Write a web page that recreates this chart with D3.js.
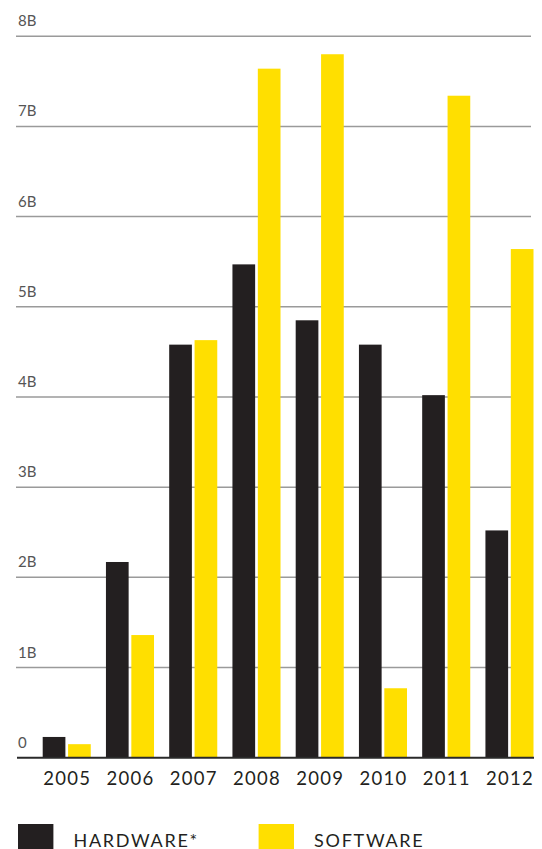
<!DOCTYPE html>
<html>
<head>
<meta charset="utf-8">
<script src="https://cdn.jsdelivr.net/npm/d3@7"></script>
<style>
  html, body { margin: 0; padding: 0; background: #fff; }
  svg { display: block; font-family: Lato, "Open Sans", sans-serif; }
</style>
</head>
<body>
<div id="chart"></div>
<script>
// chart values (billions)
const years = ["2005", "2006", "2007", "2008", "2009", "2010", "2011", "2012"];
const hardware = [0.23, 2.17, 4.58, 5.47, 4.85, 4.58, 4.02, 2.52];
const software = [0.15, 1.36, 4.63, 7.64, 7.80, 0.77, 7.34, 5.64];
const yTicks = [0, 1, 2, 3, 4, 5, 6, 7, 8];
const seriesNames = ["HARDWARE*", "SOFTWARE"];

const width = 542, height = 849;
const colors = { hw: "#231f20", sw: "#ffdf00" };

const svg = d3.select("#chart")
    .append("svg")
    .attr("width", width)
    .attr("height", height);

// scales
const y = d3.scaleLinear().domain([0, 8]).range([757.7, 36.2]);
const x0 = d3.scaleBand().domain(years).range([42.7, 533.5]).paddingInner(0.24).paddingOuter(0);
const x1 = d3.scaleBand().domain(["hw", "sw"]).range([0, x0.bandwidth()]).paddingInner(0.106);

// gridlines + labels
const grid = svg.append("g");
grid.selectAll("line")
    .data(yTicks.filter(d => d > 0))
    .enter()
    .append("line")
    .attr("x1", 16)
    .attr("x2", 531)
    .attr("y1", d => y(d))
    .attr("y2", d => y(d))
    .attr("stroke", "#9a9a9a")
    .attr("stroke-width", 1.5);

grid.selectAll("text")
    .data(yTicks)
    .enter()
    .append("text")
    .attr("x", 18)
    .attr("y", d => y(d) - 10)
    .attr("font-size", 15)
    .attr("fill", "#555")
    .text(d => d === 0 ? "0" : d + "B");

// bars
const groups = svg.selectAll("g.year")
    .data(years.map((yr, i) => ({ year: yr, hw: hardware[i], sw: software[i] })))
    .enter()
    .append("g")
    .attr("class", "year")
    .attr("transform", d => `translate(${x0(d.year)},0)`);

groups.selectAll("rect")
    .data(d => ["hw", "sw"].map(k => ({ key: k, value: d[k] })))
    .enter()
    .append("rect")
    .attr("x", d => x1(d.key))
    .attr("width", x1.bandwidth())
    .attr("y", d => y(d.value))
    .attr("height", d => y(0) - y(d.value))
    .attr("fill", d => colors[d.key]);

// baseline
svg.append("line")
    .attr("x1", 17)
    .attr("x2", 534)
    .attr("y1", y(0))
    .attr("y2", y(0))
    .attr("stroke", "#2a2a2a")
    .attr("stroke-width", 2);

// year labels
svg.append("g").selectAll("text")
    .data(years)
    .enter()
    .append("text")
    .attr("x", d => x0(d) + x0.bandwidth() / 2 + 0.6)
    .attr("y", 785)
    .attr("text-anchor", "middle")
    .attr("font-size", 18.5)
    .attr("letter-spacing", 1.3)
    .attr("fill", "#231f20")
    .text(d => d);

// legend
const legendX = [18, 258.6];
const legend = svg.append("g");
legend.selectAll("rect")
    .data(["hw", "sw"])
    .enter()
    .append("rect")
    .attr("x", (d, i) => legendX[i])
    .attr("y", 824)
    .attr("width", 35.4)
    .attr("height", 30)
    .attr("fill", d => colors[d]);

legend.selectAll("text")
    .data(seriesNames)
    .enter()
    .append("text")
    .attr("x", (d, i) => legendX[i] + 55.5)
    .attr("y", 846.5)
    .attr("font-size", 18)
    .attr("letter-spacing", 1.7)
    .attr("fill", "#231f20")
    .text(d => d);
</script>
</body>
</html>
